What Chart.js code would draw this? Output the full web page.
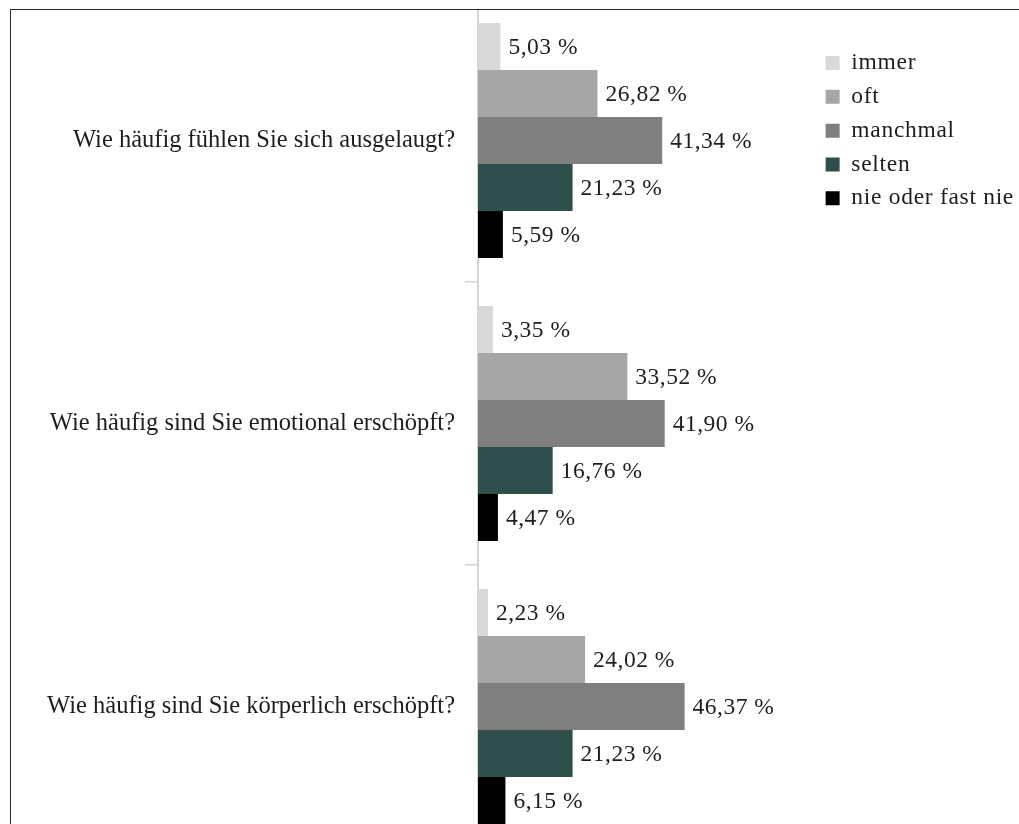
<!DOCTYPE html>
<html>
<head>
<meta charset="utf-8">
<script src="https://cdn.jsdelivr.net/npm/chart.js"></script>
<style>
  html, body { margin: 0; padding: 0; background: #fff; overflow: hidden; }
  body { width: 1019px; height: 824px; position: relative; }
  #wrap { position: absolute; left: 11px; top: -1px; width: 1013px; height: 849px; }
  #mask { position: absolute; left: 0; top: 0; width: 1019px; height: 9px; background: #fff; }
  #frame { position: absolute; left: 10px; top: 9px; right: -5px; bottom: -5px;
           border-left: 1.5px solid #2a2a2a; border-top: 1.5px solid #2a2a2a; pointer-events: none; }
</style>
</head>
<body>
<div id="wrap"><canvas id="chart"></canvas></div>
<div id="mask"></div>
<div id="frame"></div>
<script>
var categories = [
    "Wie häufig fühlen Sie sich ausgelaugt?",
    "Wie häufig sind Sie emotional erschöpft?",
    "Wie häufig sind Sie körperlich erschöpft?"
];
var seriesNames = ["immer", "oft", "manchmal", "selten", "nie oder fast nie"];
var immer = [5.03, 3.35, 2.23];
var oft = [26.82, 33.52, 24.02];
var manchmal = [41.34, 41.90, 46.37];
var selten = [21.23, 16.76, 21.23];
var nie = [5.59, 4.47, 6.15];
var colors = ["#d9d9d9", "#a6a6a6", "#7f7f7f", "#2f4f4d", "#000000"];

var serif = "'Liberation Serif', 'Times New Roman', serif";

var datasets = [immer, oft, manchmal, selten, nie].map(function (values, i) {
    return {
        label: seriesNames[i],
        data: values,
        backgroundColor: colors[i],
        borderWidth: 0,
        categoryPercentage: 0.83,
        barPercentage: 1.0
    };
});

// the legend and value labels in the original are set a bit wider,
// so letter spacing is on while the legend is measured/drawn and off for the y labels
var spacing = {
    id: "spacing",
    beforeLayout: function (chart) { chart.ctx.letterSpacing = "0.7px"; },
    afterLayout: function (chart) { chart.ctx.letterSpacing = "0px"; },
    beforeDraw: function (chart) { chart.ctx.letterSpacing = "0.7px"; }
};

// value labels right of each bar, German decimal comma
var valueLabels = {
    id: "valueLabels",
    afterDatasetsDraw: function (chart) {
        var ctx = chart.ctx;
        ctx.save();
        ctx.letterSpacing = "0.5px";
        ctx.font = "23.5px " + serif;
        ctx.fillStyle = "#1e1e1e";
        ctx.textAlign = "left";
        ctx.textBaseline = "middle";
        chart.data.datasets.forEach(function (ds, i) {
            var meta = chart.getDatasetMeta(i);
            meta.data.forEach(function (bar, j) {
                var txt = ds.data[j].toFixed(2).replace(".", ",") + " %";
                ctx.fillText(txt, bar.x + 8, bar.y + 1);
            });
        });
        ctx.restore();
        ctx.letterSpacing = "0px";
    }
};

new Chart(document.getElementById("chart"), {
    type: "bar",
    data: { labels: categories, datasets: datasets },
    plugins: [spacing, valueLabels],
    options: {
        indexAxis: "y",
        responsive: true,
        maintainAspectRatio: false,
        animation: false,
        devicePixelRatio: 1,
        layout: { padding: 0 },
        scales: {
            x: {
                display: false,
                min: 0,
                max: 75.7
            },
            y: {
                afterFit: function (scale) {
                    scale.width = 467;
                    scale.paddingTop = 0;
                    scale.paddingBottom = 0;
                },
                grid: {
                    display: true,
                    offset: true,
                    drawOnChartArea: false,
                    drawTicks: true,
                    tickLength: 13,
                    color: "#d4d4d4",
                    lineWidth: 1.5
                },
                border: { display: true, color: "#d4d4d4", width: 2 },
                ticks: {
                    z: 1,
                    padding: 10,
                    color: "#1e1e1e",
                    font: { family: serif, size: 24.5 }
                }
            }
        },
        plugins: {
            tooltip: { enabled: false },
            legend: {
                position: "right",
                align: "start",
                title: { display: true, text: "", font: { size: 10 }, padding: { top: 0, bottom: 30 } },
                labels: {
                    boxWidth: 14,
                    boxHeight: 14,
                    padding: 10.3,
                    color: "#1e1e1e",
                    font: { family: serif, size: 23.5 }
                }
            }
        }
    }
});
</script>
</body>
</html>
